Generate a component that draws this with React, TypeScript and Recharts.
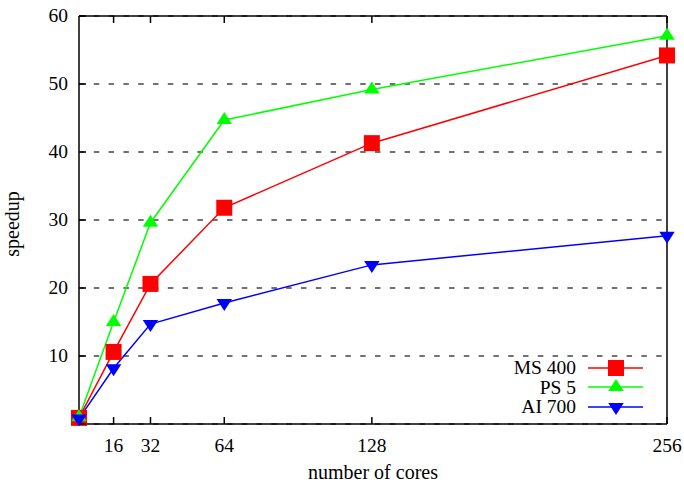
import { LineChart, Line, XAxis, YAxis, CartesianGrid, Legend, Label } from 'recharts';

// speedup vs. number of cores
const cores = [1, 16, 32, 64, 128, 256];
const ms400 = [0.9, 10.6, 20.6, 31.8, 41.3, 54.2];
const ps5 = [1.0, 15.0, 29.6, 44.7, 49.2, 57.1];
const ai700 = [0.8, 8.2, 14.7, 17.8, 23.4, 27.7];

const xTicks = [16, 32, 64, 128, 256];
const yTicks = [0, 10, 20, 30, 40, 50, 60];

const data = cores.map((c, i) => ({ cores: c, ms400: ms400[i], ps5: ps5[i], ai700: ai700[i] }));

const series = [
    { key: 'ms400', name: 'MS 400', color: '#ff0000', shape: 'square' },
    { key: 'ps5', name: 'PS 5', color: '#00ff00', shape: 'up' },
    { key: 'ai700', name: 'AI 700', color: '#0000ff', shape: 'down' },
];

const FONT = "'Liberation Serif', Tinos, 'Times New Roman', Times, 'DejaVu Serif', serif";
const FONT_SIZE = 19.5;
const TITLE_SIZE = 20;
const TICK_LEN = 7;

function Marker({ shape, cx, cy, color }: { shape: string; cx: number; cy: number; color: string }) {
    if (shape === 'square') {
        return <rect x={cx - 8} y={cy - 8} width={16} height={16} fill={color} />;
    }
    const w = 7.75;
    const h = 12;
    if (shape === 'up') {
        return <polygon points={`${cx},${cy - (2 * h) / 3} ${cx - w},${cy + h / 3} ${cx + w},${cy + h / 3}`} fill={color} />;
    }
    return <polygon points={`${cx},${cy + (2 * h) / 3} ${cx - w},${cy - h / 3} ${cx + w},${cy - h / 3}`} fill={color} />;
}

const BottomTick = ({ x, y, payload }: any) => (
    <g>
        <line x1={x} x2={x} y1={y} y2={y - TICK_LEN} stroke="#000" strokeWidth={1.5} />
        <text x={x} y={y + 28} textAnchor="middle" fill="#000" style={{ fontFamily: FONT, fontSize: FONT_SIZE }}>
            {payload.value}
        </text>
    </g>
);

const TopTick = ({ x, y }: any) => (
    <line x1={x} x2={x} y1={y} y2={y + TICK_LEN} stroke="#000" strokeWidth={1.5} />
);

const LeftTick = ({ x, y, payload }: any) => (
    <g>
        <line x1={x} x2={x + TICK_LEN} y1={y} y2={y} stroke="#000" strokeWidth={1.5} />
        {payload.value !== 0 && (
            <text x={x - 11} y={y + 6} textAnchor="end" fill="#000" style={{ fontFamily: FONT, fontSize: FONT_SIZE }}>
                {payload.value}
            </text>
        )}
    </g>
);

const RightTick = ({ x, y }: any) => (
    <line x1={x} x2={x - TICK_LEN} y1={y} y2={y} stroke="#000" strokeWidth={1.5} />
);

const YTitle = ({ viewBox }: any) => {
    const cx = 19;
    const cy = viewBox.y + viewBox.height / 2 + 4;
    return (
        <text x={cx} y={cy} transform={`rotate(-90 ${cx} ${cy})`} textAnchor="middle" fill="#000" style={{ fontFamily: FONT, fontSize: TITLE_SIZE }}>
            speedup
        </text>
    );
};

const XTitle = ({ viewBox }: any) => (
    <text x={viewBox.x + viewBox.width / 2} y={479} textAnchor="middle" fill="#000" style={{ fontFamily: FONT, fontSize: TITLE_SIZE }}>
        number of cores
    </text>
);

const LegendBox = () => (
    <div style={{ fontFamily: FONT, fontSize: FONT_SIZE, color: '#000' }}>
        {series.map((s) => (
            <div key={s.key} style={{ display: 'flex', alignItems: 'center', height: 19.5 }}>
                <span style={{ width: 106, textAlign: 'right', lineHeight: '19.5px' }}>{s.name}</span>
                <svg width={56} height={20} style={{ marginLeft: 12, overflow: 'visible' }}>
                    <line x1={0} x2={55} y1={10} y2={10} stroke={s.color} strokeWidth={1.5} />
                    <Marker shape={s.shape} cx={28} cy={10} color={s.color} />
                </svg>
            </div>
        ))}
    </div>
);

export default function App() {
    return (
        <div style={{ position: 'absolute', left: 0, top: 0, background: '#fff' }}>
            <LineChart width={684} height={485} data={data} margin={{ top: 15, right: 16, left: 0, bottom: 0 }}>
                <CartesianGrid vertical={false} stroke="#444" strokeWidth={1.5} strokeDasharray="5.5 9.3" />
                <XAxis
                    dataKey="cores"
                    type="number"
                    domain={[1, 256]}
                    ticks={xTicks}
                    height={61}
                    tickSize={0}
                    tickMargin={0}
                    tick={<BottomTick />}
                    axisLine={{ stroke: '#000', strokeWidth: 1.5 }}
                    interval={0}
                >
                    <Label content={<XTitle />} />
                </XAxis>
                <XAxis
                    xAxisId="top"
                    orientation="top"
                    dataKey="cores"
                    type="number"
                    domain={[1, 256]}
                    ticks={xTicks}
                    height={1}
                    tickSize={0}
                    tickMargin={0}
                    tick={<TopTick />}
                    axisLine={{ stroke: '#000', strokeWidth: 1.5 }}
                    interval={0}
                />
                <YAxis
                    type="number"
                    domain={[0, 60]}
                    ticks={yTicks}
                    width={79}
                    tickSize={0}
                    tickMargin={0}
                    tick={<LeftTick />}
                    axisLine={{ stroke: '#000', strokeWidth: 1.5 }}
                    interval={0}
                >
                    <Label content={<YTitle />} />
                </YAxis>
                <YAxis
                    yAxisId="right"
                    orientation="right"
                    type="number"
                    domain={[0, 60]}
                    ticks={yTicks}
                    width={1}
                    tickSize={0}
                    tickMargin={0}
                    tick={<RightTick />}
                    axisLine={{ stroke: '#000', strokeWidth: 1.5 }}
                    interval={0}
                />
                {series.map((s) => (
                    <Line
                        key={s.key}
                        dataKey={s.key}
                        name={s.name}
                        stroke={s.color}
                        strokeWidth={1.5}
                        type="linear"
                        isAnimationActive={false}
                        dot={(p: any) => <Marker key={`${s.key}-${p.index}`} shape={s.shape} cx={p.cx} cy={p.cy} color={s.color} />}
                        activeDot={false}
                    />
                ))}
                <Legend
                    layout="horizontal"
                    verticalAlign="middle"
                    content={<LegendBox />}
                    wrapperStyle={{ position: 'absolute', left: 470, top: 358, width: 180 }}
                />
            </LineChart>
        </div>
    );
}
